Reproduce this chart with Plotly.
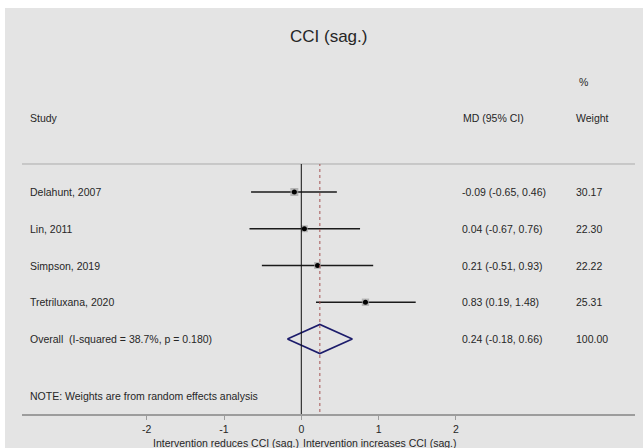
import plotly.graph_objects as go

# ---------------- data ----------------
studies = ["Delahunt, 2007", "Lin, 2011", "Simpson, 2019", "Tretriluxana, 2020"]
md = [-0.09, 0.04, 0.21, 0.83]
ci_low = [-0.65, -0.67, -0.51, 0.19]
ci_high = [0.46, 0.76, 0.93, 1.48]
weights = [30.17, 22.30, 22.22, 25.31]
ci_text = ["-0.09 (-0.65, 0.46)", "0.04 (-0.67, 0.76)", "0.21 (-0.51, 0.93)", "0.83 (0.19, 1.48)"]
weight_text = ["30.17", "22.30", "22.22", "25.31"]

overall_label = "Overall  (I-squared = 38.7%, p = 0.180)"
overall_md = 0.24
overall_low = -0.18
overall_high = 0.66
overall_ci_text = "0.24 (-0.18, 0.66)"
overall_weight_text = "100.00"

note_text = "NOTE: Weights are from random effects analysis"
title_text = "CCI (sag.)"
left_label = "Intervention reduces CCI (sag.)"
right_label = "Intervention increases CCI (sag.)"
tick_vals = [-2, -1, 0, 1, 2]
tick_text = ["-2", "-1", "0", "1", "2"]

# ---------------- layout geometry ----------------
W, H = 643, 448
ML, MR, MT, MB = 22, 8, 164, 34
PW, PH = W - ML - MR, H - MT - MB
X0PIX, XSCALE = 301.3, 77.3          # pixel of x=0, px per unit
ROW0PIX, ROWSTEP = 192, 36.75        # pixel of row 1, px per row

def px_x(p):
    return (p - ML) / PW

def px_y(p):
    return 1 - (p - MT) / PH

x_range = [(ML - X0PIX) / XSCALE, (W - MR - X0PIX) / XSCALE]
y_range = [1 + (H - MB - ROW0PIX) / ROWSTEP, 1 - (ROW0PIX - MT) / ROWSTEP]

FONT = "Liberation Sans, Arial, sans-serif"
TXT = "#262626"
BG = "#e4e4e4"

rows = list(range(1, len(studies) + 1))
overall_row = len(studies) + 1

fig = go.Figure()

# CI lines with weight boxes
fig.add_trace(go.Scatter(
    x=md, y=rows, mode="markers",
    marker=dict(symbol="square", size=[8 * (w / max(weights)) ** 0.5 for w in weights],
                color="#a0a0a0", line=dict(width=0)),
    error_x=dict(type="data", symmetric=False,
                 array=[h - m for h, m in zip(ci_high, md)],
                 arrayminus=[m - l for m, l in zip(md, ci_low)],
                 color="#1a1a1a", thickness=1.7, width=0),
    hoverinfo="skip", showlegend=False))
# point estimate dots
fig.add_trace(go.Scatter(
    x=md, y=rows, mode="markers",
    marker=dict(symbol="circle", size=5, color="#000000"),
    hoverinfo="skip", showlegend=False))

# overall diamond
dh = 14.5 / ROWSTEP
fig.add_trace(go.Scatter(
    x=[overall_low, overall_md, overall_high, overall_md, overall_low],
    y=[overall_row, overall_row - dh, overall_row, overall_row + dh, overall_row],
    mode="lines", line=dict(color="#1c1c6b", width=1.6),
    hoverinfo="skip", showlegend=False))

shapes = [
    # white margin strips (top and left)
    dict(type="rect", xref="paper", yref="paper", x0=px_x(0), x1=px_x(W), y0=px_y(0), y1=px_y(8),
         fillcolor="white", line=dict(width=0), layer="below"),
    dict(type="rect", xref="paper", yref="paper", x0=px_x(0), x1=px_x(5), y0=px_y(0), y1=px_y(H),
         fillcolor="white", line=dict(width=0), layer="below"),
    # top separator line
    dict(type="line", xref="paper", yref="paper", x0=0, x1=1, y0=1, y1=1,
         line=dict(color="#ababab", width=1)),
    # null line
    dict(type="line", xref="x", yref="paper", x0=0, x1=0, y0=0, y1=1,
         line=dict(color="#111111", width=1)),
    # overall effect dashed line
    dict(type="line", xref="x", yref="paper", x0=overall_md, x1=overall_md, y0=0.008, y1=1,
         line=dict(color="#a65555", width=1, dash="3px,3px")),
]

ann = []
def add_text(text, x, y, xanchor="left", size=10.5, xref="paper"):
    ann.append(dict(text=text, x=x, y=y, xref=xref, yref="paper", xanchor=xanchor,
                    yanchor="middle", showarrow=False,
                    font=dict(family=FONT, size=size, color=TXT)))

# header
add_text(title_text, px_x(328), px_y(36), xanchor="center", size=17)
add_text("%", px_x(577), px_y(82))
add_text("Study", px_x(28), px_y(118))
add_text("MD (95% CI)", px_x(461), px_y(118))
add_text("Weight", px_x(574), px_y(118))

for i, r in enumerate(rows):
    yp = px_y(ROW0PIX + (r - 1) * ROWSTEP)
    add_text(studies[i], px_x(28), yp)
    add_text(ci_text[i], px_x(460), yp)
    add_text(weight_text[i], px_x(574), yp)

yo = px_y(ROW0PIX + (overall_row - 1) * ROWSTEP)
add_text(overall_label, px_x(28), yo)
add_text(overall_ci_text, px_x(460), yo)
add_text(overall_weight_text, px_x(574), yo)

add_text(note_text, px_x(28), px_y(396))

# axis side labels
ann.append(dict(text=left_label, x=0, y=px_y(443), xref="x", yref="paper", xanchor="right",
                yanchor="middle", showarrow=False, font=dict(family=FONT, size=10.5, color=TXT)))
ann.append(dict(text=right_label, x=0, y=px_y(443), xref="x", yref="paper", xanchor="left",
                yanchor="middle", showarrow=False, font=dict(family=FONT, size=10.5, color=TXT)))

fig.update_layout(
    width=W, height=H,
    margin=dict(l=ML, r=MR, t=MT, b=MB, pad=0),
    paper_bgcolor=BG, plot_bgcolor=BG,
    shapes=shapes, annotations=ann,
    xaxis=dict(range=x_range, showgrid=False, zeroline=False,
               showline=True, linecolor="#9c9c9c", linewidth=2,
               ticks="outside", ticklen=4, tickcolor="#9c9c9c", tickwidth=1,
               tickvals=tick_vals, ticktext=tick_text,
               tickfont=dict(family=FONT, size=10.5, color=TXT), fixedrange=True),
    yaxis=dict(range=y_range, showgrid=False, zeroline=False, showline=False,
               showticklabels=False, ticks="", fixedrange=True),
    showlegend=False,
)

fig.write_html("out.html", config={"displayModeBar": False},
               post_script="document.body.style.margin='0';document.body.style.overflow='hidden';")
